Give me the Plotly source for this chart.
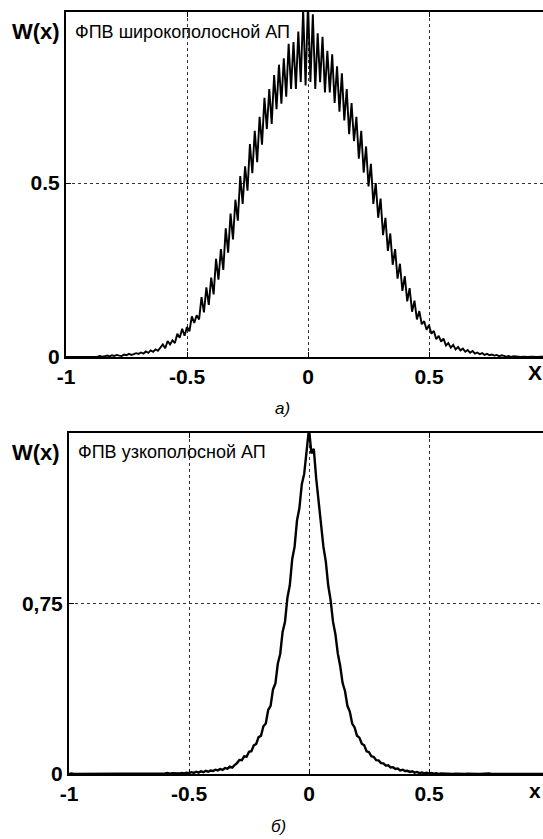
import numpy as np
import plotly.graph_objects as go

# x grid (bin centres) from -1 to 1, step 0.01
X_VALUES = np.round(np.arange(-100, 101) / 100.0, 2).tolist()

# Wideband signal PDF (noisy histogram estimate)
W_WIDE = [
    # -1.00 .. -0.61
    0, 0, 0, 0, 0.001, 0, 0, 0.002, 0, 0.001,
    0.001, 0, 0.002, 0.001, 0.003, 0.001, 0.002, 0.004, 0.002, 0.005,
    0.003, 0.006, 0.004, 0.003, 0.007, 0.005, 0.009, 0.006, 0.008, 0.011,
    0.009, 0.013, 0.010, 0.016, 0.012, 0.019, 0.015, 0.022, 0.018, 0.027,
    # -0.60 .. -0.46
    0.036, 0.025, 0.046, 0.036, 0.048, 0.040, 0.067, 0.055, 0.081, 0.061,
    0.086, 0.074, 0.117, 0.098, 0.120,
    # -0.45 .. -0.01
    0.108, 0.172, 0.128, 0.200, 0.150, 0.228, 0.180, 0.282, 0.222, 0.310,
    0.250, 0.370, 0.300, 0.412, 0.338, 0.452, 0.392, 0.520, 0.440, 0.548,
    0.478, 0.612, 0.528, 0.650, 0.560, 0.690, 0.610, 0.745, 0.655, 0.770,
    0.670, 0.810, 0.712, 0.840, 0.728, 0.858, 0.748, 0.900, 0.770, 0.905,
    0.770, 0.935, 0.790, 1.000, 0.780,
    # 0.00
    1.020,
    # 0.01 .. 0.45
    0.790, 0.985, 0.770, 0.930, 0.790, 0.920, 0.760, 0.880, 0.760, 0.870,
    0.730, 0.835, 0.705, 0.815, 0.680, 0.770, 0.640, 0.730, 0.620, 0.690,
    0.570, 0.650, 0.530, 0.605, 0.490, 0.555, 0.440, 0.500, 0.400, 0.455,
    0.350, 0.400, 0.305, 0.355, 0.265, 0.310, 0.225, 0.268, 0.190, 0.232,
    0.160, 0.198, 0.130, 0.162, 0.108,
    # 0.46 .. 0.60
    0.132, 0.094, 0.103, 0.078, 0.092, 0.067, 0.075, 0.051, 0.061, 0.044,
    0.053, 0.033, 0.040, 0.027, 0.035,
    # 0.61 .. 1.00
    0.022, 0.029, 0.019, 0.024, 0.015, 0.020, 0.012, 0.017, 0.010, 0.013,
    0.008, 0.011, 0.006, 0.009, 0.005, 0.007, 0.004, 0.006, 0.002, 0.005,
    0.003, 0.001, 0.003, 0, 0.002, 0.001, 0.002, 0, 0.001, 0,
    0, 0.001, 0, 0, 0, 0.001, 0, 0, 0, 0,
]

# Narrowband signal PDF
W_NARROW = [
    0, 0.002, 0, 0, 0.001, 0, 0, 0.002, 0, 0,
    0, 0.001, 0, 0.002, 0, 0, 0.001, 0, 0.002, 0,
    0.001, 0, 0.002, 0, 0.001, 0.002, 0, 0.003, 0.001, 0.002,
    0.001, 0.003, 0, 0.002, 0.001, 0.003, 0.001, 0.002, 0.003, 0.001,
    0.002, 0.004, 0.001, 0.003, 0.002, 0.004, 0.002, 0.005, 0.003, 0.006,
    0.004, 0.008, 0.005, 0.010, 0.006, 0.012, 0.008, 0.014, 0.010, 0.015,
    0.013, 0.019, 0.016, 0.022, 0.018, 0.026, 0.023, 0.032, 0.028, 0.039,
    0.048, 0.062, 0.061, 0.078, 0.076, 0.098, 0.100, 0.126, 0.132, 0.162,
    0.168, 0.210, 0.222, 0.282, 0.300, 0.372, 0.398, 0.485, 0.528, 0.625,
    0.67, 0.775, 0.83, 0.945, 1.00, 1.115, 1.17, 1.275, 1.32, 1.42,
    1.52,
    1.41, 1.43, 1.30, 1.19, 1.11, 1.00, 0.935, 0.83, 0.765, 0.67,
    0.615, 0.53, 0.475, 0.40, 0.365, 0.30, 0.275, 0.222, 0.205, 0.168,
    0.160, 0.133, 0.126, 0.100, 0.096, 0.078, 0.075, 0.061, 0.060, 0.048,
    0.047, 0.037, 0.038, 0.029, 0.030, 0.022, 0.024, 0.016, 0.019, 0.013,
    0.014, 0.009, 0.012, 0.006, 0.009, 0.004, 0.007, 0.003, 0.006, 0.002,
    0.004, 0.001, 0.003, 0, 0.002, 0.001, 0.002, 0, 0.001, 0,
    0.001, 0, 0.002, 0, 0, 0.001, 0, 0.002, 0, 0,
    0, 0.001, 0, 0, 0.002, 0, 0, 0.001, 0, 0,
    0.002, 0, 0, 0.001, 0, 0, 0.002, 0, 0, 0.001,
    0, 0, 0.001, 0, 0, 0.002, 0, 0, 0, 0,
]

X_TICKS = [-1, -0.5, 0, 0.5]
X_TICK_TEXT = ["-1", "-0.5", "0", "0.5"]
Y_TICKS_TOP = [0, 0.5]
Y_TICK_TEXT_TOP = ["0", "0.5"]
Y_TICKS_BOTTOM = [0, 0.75]
Y_TICK_TEXT_BOTTOM = ["0", "0,75"]

W, H = 543, 839
FONT = "Arial, Liberation Sans, sans-serif"


def px(xp):
    return xp / W


def py(yp):
    return 1 - yp / H


fig = go.Figure()
fig.add_trace(go.Scatter(x=X_VALUES, y=W_WIDE, xaxis="x", yaxis="y", mode="lines",
                         line=dict(color="black", width=1.9), showlegend=False))
fig.add_trace(go.Scatter(x=X_VALUES, y=W_NARROW, xaxis="x2", yaxis="y2", mode="lines",
                         line=dict(color="black", width=2.4), showlegend=False))

common = dict(showline=True, linecolor="black", linewidth=2, ticks="inside", ticklen=5,
              tickcolor="black", tickwidth=1, showgrid=True, gridcolor="#333333",
              griddash="dot", gridwidth=1.2, zeroline=False, automargin=False,
              tickfont=dict(family=FONT, size=21, color="black", weight="bold"))

fig.update_layout(
    width=W, height=H, margin=dict(l=0, r=0, t=0, b=0),
    paper_bgcolor="white", plot_bgcolor="white", showlegend=False,
    xaxis=dict(domain=[px(66), 1], range=[-1, (W - 308) / 242], anchor="y",
               tickvals=X_TICKS, ticktext=X_TICK_TEXT, mirror="ticks", **common),
    yaxis=dict(domain=[py(357), py(12)], range=[0, 345 / 348], anchor="x",
               tickvals=Y_TICKS_TOP, ticktext=Y_TICK_TEXT_TOP, mirror=False, **common),
    xaxis2=dict(domain=[px(69), 1], range=[-1, (W - 309) / 240], anchor="y2",
                tickvals=X_TICKS, ticktext=X_TICK_TEXT, mirror="ticks", **common),
    yaxis2=dict(domain=[py(774), py(433)], range=[0, 1.5], anchor="x2",
                tickvals=Y_TICKS_BOTTOM, ticktext=Y_TICK_TEXT_BOTTOM, mirror=False, **common),
)

annots = [
    dict(text="W(x)", x=px(36), y=py(32), size=22, bold=True, xanchor="center"),
    dict(text="ФПВ широкополосной АП", x=px(73), y=py(32), size=18, bold=False, xanchor="left"),
    dict(text="X", x=px(535), y=py(372), size=21, bold=True, xanchor="center"),
    dict(text="<i>а)</i>", x=px(282), y=py(408), size=17, bold=False, xanchor="center"),
    dict(text="W(x)", x=px(36), y=py(452), size=22, bold=True, xanchor="center"),
    dict(text="ФПВ узкополосной АП", x=px(76), y=py(452), size=18, bold=False, xanchor="left"),
    dict(text="x", x=px(535), y=py(790), size=21, bold=True, xanchor="center"),
    dict(text="<i>б)</i>", x=px(278), y=py(826), size=17, bold=False, xanchor="center"),
]
for a in annots:
    fig.add_annotation(text=a["text"], x=a["x"], y=a["y"], xref="paper", yref="paper",
                       xanchor=a["xanchor"], yanchor="middle", showarrow=False,
                       font=dict(family=FONT, size=a["size"], color="black",
                                 weight="bold" if a["bold"] else "normal"))

fig.write_html("out.html", config={"displayModeBar": False},
               post_script="document.body.style.margin='0';document.body.style.padding='0';"
                           "document.body.style.overflow='hidden';")
